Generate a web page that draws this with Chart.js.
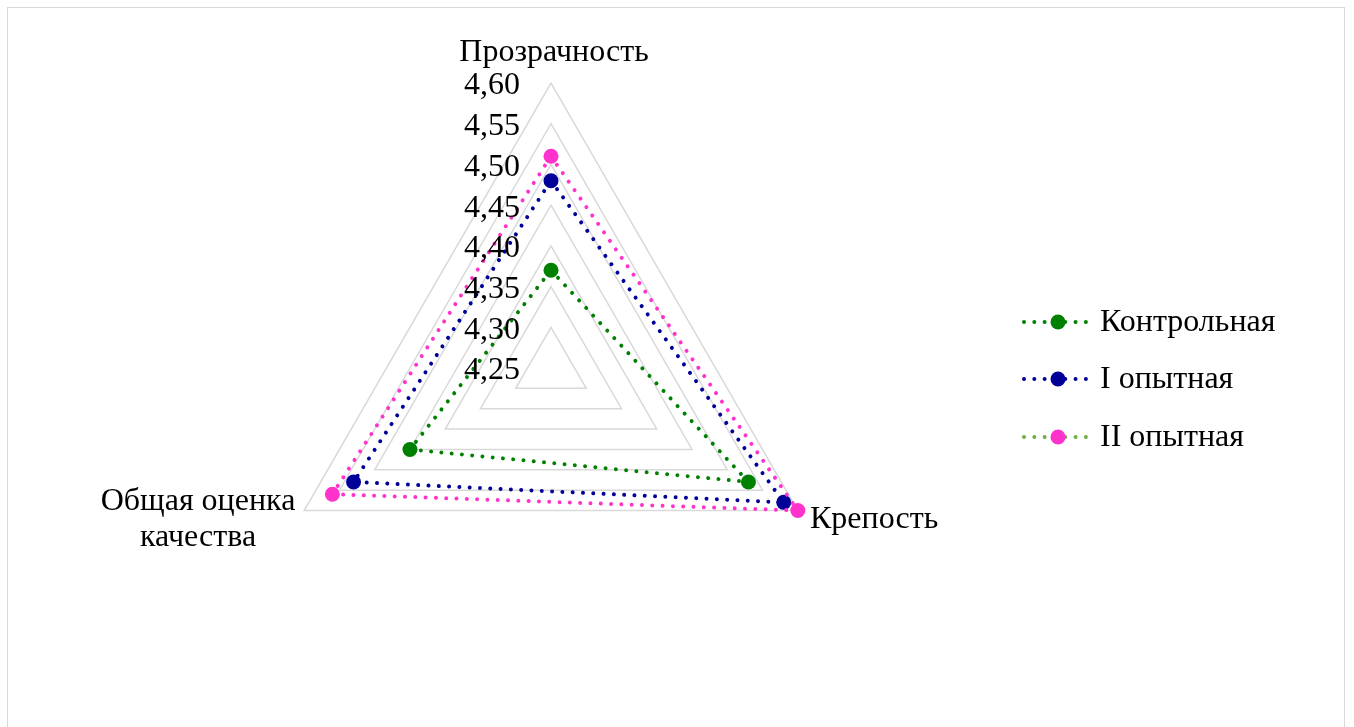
<!DOCTYPE html>
<html>
<head>
<meta charset="utf-8">
<script src="https://cdn.jsdelivr.net/npm/chart.js@4"></script>
<style>
    html, body { margin: 0; padding: 0; background: #fff; overflow: hidden; }
    #frame {
        position: absolute; left: 7px; top: 7px; width: 1338px; height: 740px;
        border: 1px solid #d9d9d9; box-sizing: border-box;
    }
    #wrap { position: absolute; left: 0; top: 0; width: 1354px; height: 727px; }
</style>
</head>
<body>
<div id="frame"></div>
<div id="wrap"><canvas id="radarChart" width="1354" height="727"></canvas></div>
<script>
// Data
const categories = ['Прозрачность', 'Крепость', 'Общая оценка качества'];
const seriesNames = ['Контрольная', 'I опытная', 'II опытная'];
const controlValues = [4.37, 4.53, 4.45];
const firstValues = [4.48, 4.58, 4.53];
const secondValues = [4.51, 4.60, 4.56];
const tickLabels = ['4,25', '4,30', '4,35', '4,40', '4,45', '4,50', '4,55', '4,60'];
const tickValues = [4.25, 4.30, 4.35, 4.40, 4.45, 4.50, 4.55, 4.60];

const FONT = '"Liberation Serif", "Times New Roman", serif';
const colors = ['#008000', '#000099', '#ff33cc'];
const legendLineColors = ['#008000', '#000099', '#70ad47'];

function makeDataset(label, data, color, order) {
    return {
        label: label,
        data: data,
        borderColor: color,
        backgroundColor: color,
        borderWidth: 4,
        borderDash: [0.01, 10.3],
        borderCapStyle: 'round',
        fill: false,
        pointRadius: 7.5,
        pointHoverRadius: 7.5,
        pointBorderWidth: 0,
        pointBackgroundColor: color,
        order: order
    };
}

// Labels, ticks and legend drawn by hand to match the original layout
const labelPlugin = {
    id: 'labelPlugin',
    afterDraw(chart) {
        const ctx = chart.ctx;
        const r = chart.scales.r;
        ctx.save();
        ctx.fillStyle = '#000';
        ctx.font = '32px ' + FONT;

        // tick labels
        ctx.textAlign = 'right';
        ctx.textBaseline = 'middle';
        tickValues.forEach((v, i) => {
            const d = r.getDistanceFromCenterForValue(v);
            ctx.fillText(tickLabels[i], r.xCenter - 31, r.yCenter - d + 3);
        });

        // point labels
        ctx.textAlign = 'center';
        ctx.fillText(categories[0], r.xCenter + 3, 53);
        ctx.textAlign = 'left';
        ctx.fillText(categories[1], 810, 520);
        ctx.textAlign = 'center';
        ctx.fillText('Общая оценка', 198, 502);
        ctx.fillText('качества', 198, 538);

        // legend
        const rows = [322, 379, 437];
        seriesNames.forEach((name, i) => {
            const y = rows[i];
            ctx.strokeStyle = legendLineColors[i];
            ctx.lineWidth = 4;
            ctx.lineCap = 'round';
            ctx.setLineDash([0.01, 10.3]);
            ctx.beginPath();
            ctx.moveTo(1024, y);
            ctx.lineTo(1090, y);
            ctx.stroke();
            ctx.setLineDash([]);
            ctx.fillStyle = colors[i];
            ctx.beginPath();
            ctx.arc(1058, y, 7.5, 0, Math.PI * 2);
            ctx.fill();
            ctx.fillStyle = '#000';
            ctx.textAlign = 'left';
            ctx.fillText(name, 1100, y + 1);
        });
        ctx.restore();
    }
};

const radarChart = new Chart(document.getElementById('radarChart'), {
    type: 'radar',
    data: {
        labels: categories,
        datasets: [
            makeDataset(seriesNames[0], controlValues, colors[0], 3),
            makeDataset(seriesNames[1], firstValues, colors[1], 2),
            makeDataset(seriesNames[2], secondValues, colors[2], 1)
        ]
    },
    options: {
        responsive: false,
        animation: false,
        layout: {
            padding: { left: 266, top: 83, right: 518, bottom: 74 }
        },
        elements: {
            line: { tension: 0 }
        },
        scales: {
            r: {
                min: 4.25,
                max: 4.60,
                ticks: {
                    stepSize: 0.05,
                    display: false
                },
                grid: {
                    color: '#d9d9d9',
                    lineWidth: 1.5
                },
                angleLines: {
                    display: false
                },
                pointLabels: {
                    display: false
                }
            }
        },
        plugins: {
            legend: { display: false },
            tooltip: { enabled: false }
        }
    },
    plugins: [labelPlugin]
});
</script>
</body>
</html>
